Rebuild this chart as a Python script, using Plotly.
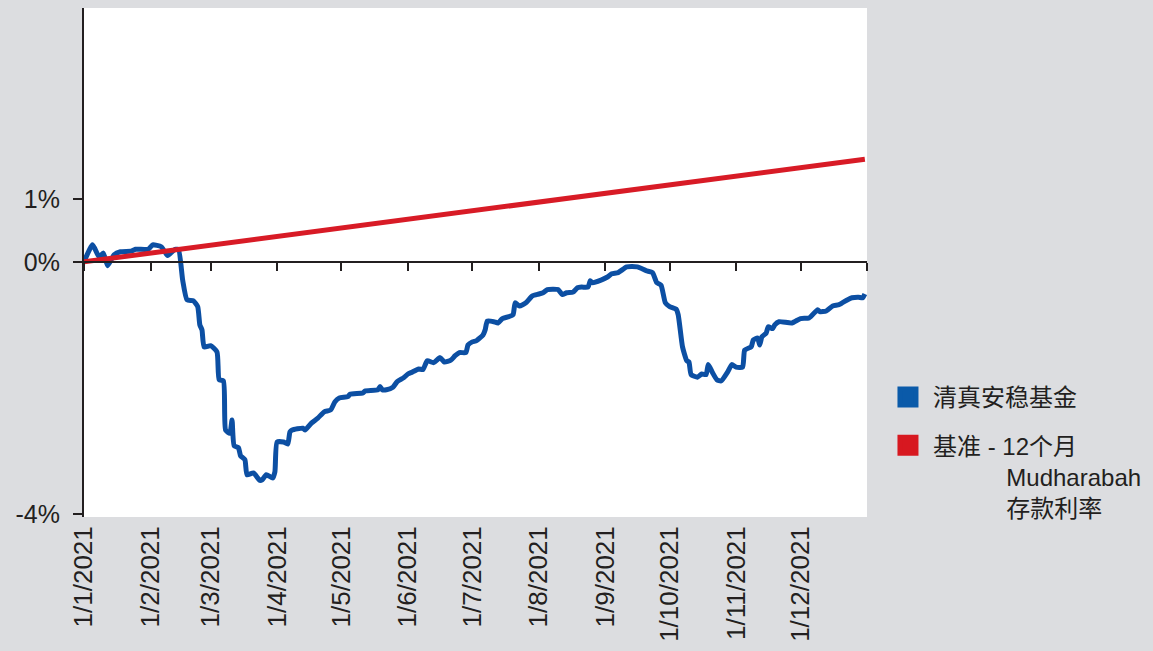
import plotly.graph_objects as go

# ---------------- data ----------------
fund_dates = [
    "2021-01-01", "2021-01-05", "2021-01-08", "2021-01-10", "2021-01-12", "2021-01-15", "2021-01-18",
    "2021-01-23", "2021-01-25", "2021-01-31",
    "2021-02-02", "2021-02-06", "2021-02-09", "2021-02-12", "2021-02-14", "2021-02-16", "2021-02-18",
    "2021-02-21", "2021-02-23", "2021-02-24", "2021-02-25", "2021-02-26",
    "2021-03-01", "2021-03-04", "2021-03-05", "2021-03-07", "2021-03-08", "2021-03-10", "2021-03-11",
    "2021-03-12", "2021-03-14", "2021-03-15", "2021-03-17", "2021-03-18", "2021-03-21", "2021-03-24",
    "2021-03-25", "2021-03-27", "2021-03-30", "2021-03-31",
    "2021-04-01", "2021-04-04", "2021-04-06", "2021-04-07", "2021-04-08", "2021-04-13", "2021-04-14",
    "2021-04-17", "2021-04-20", "2021-04-23", "2021-04-26", "2021-04-28", "2021-04-30",
    "2021-05-04", "2021-05-05", "2021-05-11", "2021-05-12", "2021-05-18", "2021-05-19", "2021-05-20",
    "2021-05-22", "2021-05-25", "2021-05-27", "2021-05-30",
    "2021-06-01", "2021-06-03", "2021-06-06", "2021-06-08", "2021-06-10", "2021-06-13", "2021-06-16",
    "2021-06-18", "2021-06-21", "2021-06-23", "2021-06-25", "2021-06-28", "2021-06-29",
    "2021-07-01", "2021-07-03", "2021-07-06", "2021-07-07", "2021-07-08", "2021-07-11", "2021-07-13",
    "2021-07-15", "2021-07-18", "2021-07-20", "2021-07-21", "2021-07-23", "2021-07-26", "2021-07-29",
    "2021-08-01", "2021-08-03", "2021-08-05", "2021-08-10", "2021-08-12", "2021-08-14", "2021-08-17",
    "2021-08-19", "2021-08-21", "2021-08-24", "2021-08-25", "2021-08-26", "2021-08-30",
    "2021-09-02", "2021-09-04", "2021-09-07", "2021-09-11", "2021-09-16", "2021-09-20", "2021-09-23",
    "2021-09-25", "2021-09-27", "2021-09-29",
    "2021-10-01", "2021-10-04", "2021-10-05", "2021-10-07", "2021-10-09", "2021-10-10", "2021-10-11",
    "2021-10-14", "2021-10-16", "2021-10-18", "2021-10-19", "2021-10-21", "2021-10-23", "2021-10-25",
    "2021-10-28", "2021-10-30",
    "2021-11-01", "2021-11-04", "2021-11-05", "2021-11-08", "2021-11-09", "2021-11-11", "2021-11-12",
    "2021-11-13", "2021-11-15", "2021-11-16", "2021-11-18", "2021-11-19", "2021-11-21", "2021-11-27",
    "2021-12-01", "2021-12-05", "2021-12-09", "2021-12-10", "2021-12-13", "2021-12-16", "2021-12-19",
    "2021-12-23", "2021-12-25", "2021-12-28", "2021-12-30", "2021-12-31",
]
fund_values = [
    0.00, 0.27, 0.08, 0.14, -0.06, 0.11, 0.16,
    0.17, 0.20, 0.20,
    0.27, 0.24, 0.10, 0.19, 0.20, -0.29, -0.60,
    -0.62, -0.71, -1.00, -1.08, -1.35,
    -1.33, -1.43, -1.87, -1.89, -2.67, -2.72, -2.51,
    -2.92, -2.95, -3.08, -3.14, -3.38, -3.35, -3.47,
    -3.46, -3.38, -3.43, -3.33,
    -2.86, -2.86, -2.89, -2.70, -2.67, -2.64, -2.67,
    -2.56, -2.48, -2.38, -2.35, -2.22, -2.16,
    -2.14, -2.10, -2.08, -2.05, -2.03, -1.98, -2.03,
    -2.03, -1.99, -1.90, -1.84,
    -1.78, -1.75, -1.70, -1.71, -1.57, -1.60, -1.52,
    -1.59, -1.56, -1.49, -1.44, -1.44, -1.32,
    -1.27, -1.25, -1.16, -1.08, -0.94, -0.95, -0.97,
    -0.90, -0.87, -0.84, -0.65, -0.70, -0.65, -0.54,
    -0.51, -0.49, -0.44, -0.44, -0.52, -0.49, -0.48,
    -0.41, -0.40, -0.40, -0.30, -0.33, -0.29,
    -0.24, -0.19, -0.17, -0.08, -0.08, -0.14, -0.17,
    -0.33, -0.37, -0.65,
    -0.71, -0.75, -0.84, -1.35, -1.57, -1.59, -1.79,
    -1.83, -1.78, -1.79, -1.63, -1.76, -1.87, -1.89,
    -1.75, -1.63,
    -1.67, -1.67, -1.40, -1.35, -1.24, -1.21, -1.32,
    -1.19, -1.13, -1.03, -1.06, -1.00, -0.95, -0.97,
    -0.90, -0.89, -0.76, -0.79, -0.78, -0.70, -0.68,
    -0.60, -0.57, -0.56, -0.57, -0.51,
]

bench_dates = ["2021-01-01", "2021-12-31"]
bench_values = [0.00, 1.63]

month_ticks = ["2021-%02d-01" % m for m in range(1, 13)]
month_labels = ["1/%d/2021" % m for m in range(1, 13)]
axis_ticks = month_ticks + ["2022-01-01"]

y_tickvals = [-4, 0, 1]
y_ticktext = ["-4%", "0%", "1%"]

fund_name = "清真安稳基金"
bench_name = "基准 - 12个月<br>" + "\u00a0" * 11 + "Mudharabah<br>" + "\u00a0" * 11 + "存款利率"

# ---------------- style ----------------
BLUE = "#0c4fa3"
BLUE_LEG = "#0a5aa9"
RED = "#d81b26"
RED_LEG = "#d71820"
BG = "#dcdde0"
INK = "#231f20"
FONT = "Liberation Sans, Arial, Noto Sans CJK SC, sans-serif"

X_RANGE = ["2021-01-01", "2022-01-01"]
Y_RANGE = [-4.05, 4.03]
zero_pos = (0 - Y_RANGE[0]) / (Y_RANGE[1] - Y_RANGE[0])

fig = go.Figure()

fig.add_trace(go.Scatter(
    x=fund_dates, y=fund_values, mode="lines",
    line=dict(color=BLUE, width=5, shape="spline", smoothing=0.5),
    showlegend=False, hoverinfo="skip",
))
fig.add_trace(go.Scatter(
    x=bench_dates, y=bench_values, mode="lines", xaxis="x2",
    line=dict(color=RED, width=5), showlegend=False, hoverinfo="skip",
))
# legend entries (square swatches)
fig.add_trace(go.Scatter(
    x=[None], y=[None], mode="markers", name=fund_name, legendgroup="a",
    marker=dict(symbol="square", size=16, color=BLUE_LEG, line=dict(color=BLUE_LEG, width=5)),
))
fig.add_trace(go.Scatter(
    x=[None], y=[None], mode="markers", name=bench_name, legendgroup="b",
    marker=dict(symbol="square", size=16, color=RED_LEG, line=dict(color=RED_LEG, width=5)),
))

fig.update_layout(
    width=1153, height=651,
    margin=dict(l=84, r=286, t=8, b=134, autoexpand=False),
    paper_bgcolor=BG, plot_bgcolor="white",
    font=dict(family=FONT, color=INK, size=24),
    xaxis=dict(
        type="date", range=X_RANGE,
        tickmode="array", tickvals=month_ticks, ticktext=month_labels,
        tickangle=-90, ticks="", showline=False, showgrid=False, zeroline=False,
        tickfont=dict(size=26, color=INK), ticklabelstandoff=3,
    ),
    xaxis2=dict(
        type="date", range=X_RANGE, overlaying="x", anchor="free", position=zero_pos,
        tickmode="array", tickvals=axis_ticks, ticks="outside", ticklen=8, tickwidth=2,
        tickcolor=INK, showticklabels=False, showline=True, linewidth=2, linecolor=INK,
        showgrid=False, zeroline=False,
    ),
    yaxis=dict(
        range=Y_RANGE, tickmode="array", tickvals=y_tickvals, ticktext=y_ticktext,
        ticks="outside", ticklen=9, tickwidth=2, tickcolor=INK,
        showline=True, linewidth=2, linecolor=INK, showgrid=False, zeroline=False,
        tickfont=dict(size=25, color=INK), ticklabelstandoff=8,
    ),
    legend=dict(
        x=1.0204, xanchor="left", y=0.279, yanchor="top",
        bgcolor="rgba(0,0,0,0)", font=dict(size=24, color=INK, family=FONT),
        itemwidth=40, valign="top", tracegroupgap=14,
    ),
)

fig.write_html(
    "out.html",
    config={"displayModeBar": False},
    post_script="document.body.style.margin='0';document.body.style.background='%s';" % BG,
)
